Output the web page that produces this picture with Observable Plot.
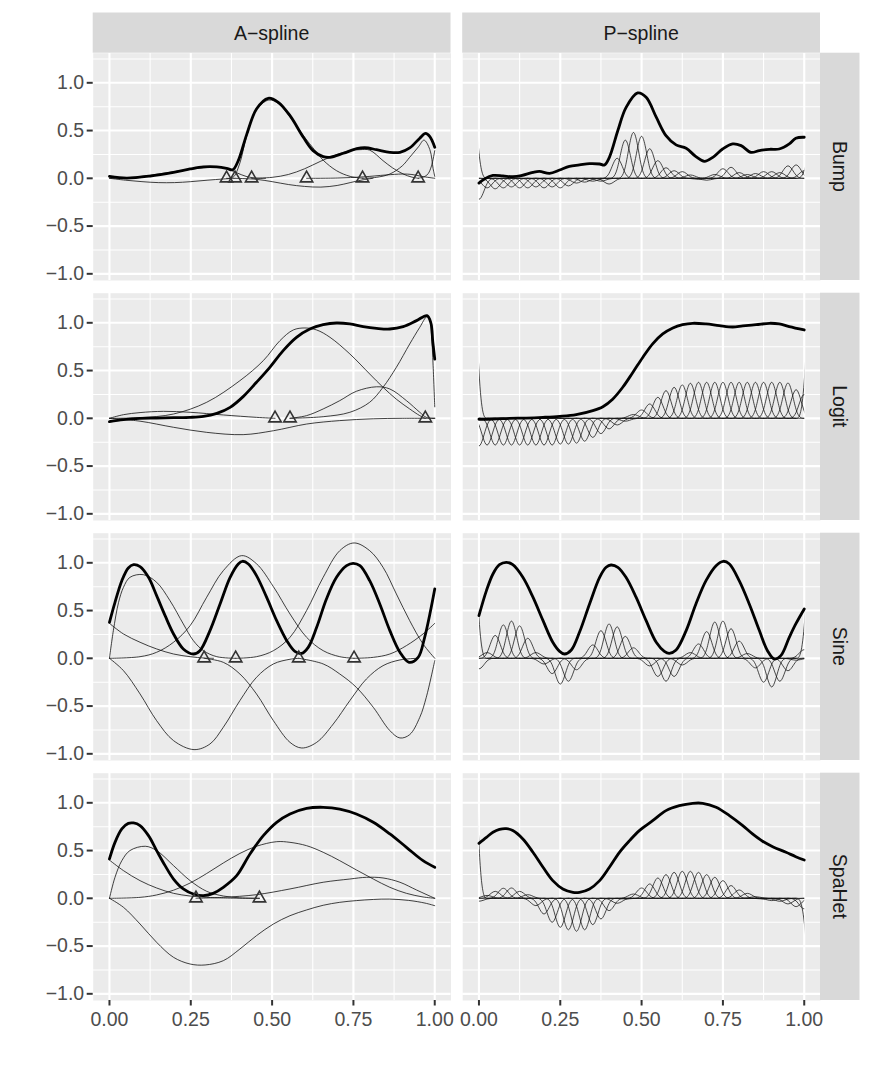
<!DOCTYPE html>
<html><head><meta charset="utf-8">
<script src="https://cdn.jsdelivr.net/npm/d3@7"></script>
<script src="https://cdn.jsdelivr.net/npm/@observablehq/plot@0.6"></script>
<style>
html,body{margin:0;padding:0;background:#fff;}
#chart{width:872px;height:1073px;}
</style></head><body><div id="chart"></div>
<script>
// ---------- facets ----------
const cols = ["A\u2212spline", "P\u2212spline"];
const rows = ["Bump", "Logit", "Sine", "SpaHet"];

// ---------- tick values ----------
const xMajor = [0, 0.25, 0.5, 0.75, 1];
const xMinor = [0.125, 0.375, 0.625, 0.875];
const yMajor = [-1, -0.5, 0, 0.5, 1];
const yMinor = [-0.75, -0.25, 0.25, 0.75, 1.25];

// ---------- fitted curves (thick) [x, y] ----------
const bumpAFit = [[0,0.02],[0.053,0.003],[0.125,0.024],[0.197,0.063],[0.248,0.098],[0.289,0.119],[0.33,0.119],[0.36,0.105],[0.379,0.09],[0.396,0.185],[0.422,0.46],[0.452,0.726],[0.488,0.838],[0.519,0.796],[0.555,0.656],[0.596,0.43],[0.626,0.29],[0.657,0.227],[0.678,0.22],[0.719,0.262],[0.76,0.31],[0.785,0.32],[0.821,0.3],[0.862,0.272],[0.893,0.272],[0.923,0.318],[0.954,0.42],[0.972,0.47],[0.985,0.436],[1,0.325]];
const bumpPFit = [[0,-0.05],[0.017,-0.007],[0.043,0.03],[0.074,0.025],[0.104,0.017],[0.13,0.028],[0.166,0.063],[0.186,0.073],[0.217,0.052],[0.248,0.087],[0.278,0.126],[0.309,0.14],[0.34,0.154],[0.371,0.15],[0.386,0.14],[0.401,0.22],[0.427,0.5],[0.452,0.74],[0.488,0.894],[0.514,0.848],[0.545,0.64],[0.575,0.447],[0.606,0.35],[0.637,0.314],[0.667,0.227],[0.693,0.178],[0.719,0.22],[0.749,0.307],[0.78,0.36],[0.806,0.342],[0.836,0.272],[0.862,0.29],[0.893,0.304],[0.923,0.307],[0.954,0.36],[0.974,0.42],[1,0.43]];
const logitAFit = [[0,-0.035],[0.043,-0.014],[0.094,0],[0.145,0.003],[0.197,0.007],[0.248,0.01],[0.289,0.02],[0.33,0.052],[0.371,0.115],[0.411,0.227],[0.452,0.377],[0.493,0.534],[0.534,0.709],[0.575,0.848],[0.616,0.935],[0.657,0.98],[0.698,0.998],[0.739,0.988],[0.78,0.96],[0.821,0.942],[0.862,0.935],[0.903,0.96],[0.944,1.023],[0.976,1.075],[0.988,1.0],[0.994,0.8],[1,0.62]];
const logitPFit = [[0,-0.01],[0.043,-0.007],[0.094,0],[0.145,0.003],[0.197,0.01],[0.248,0.02],[0.299,0.038],[0.35,0.08],[0.381,0.122],[0.411,0.2],[0.442,0.325],[0.473,0.48],[0.504,0.64],[0.534,0.78],[0.565,0.883],[0.596,0.946],[0.626,0.98],[0.657,0.995],[0.698,0.988],[0.739,0.97],[0.78,0.956],[0.811,0.967],[0.852,0.98],[0.893,0.995],[0.923,0.988],[0.954,0.96],[1,0.925]];
const sineAFit = [[0,0.377],[0.017,0.586],[0.038,0.813],[0.058,0.946],[0.074,0.98],[0.094,0.96],[0.12,0.848],[0.145,0.656],[0.171,0.447],[0.197,0.255],[0.227,0.098],[0.258,0.045],[0.278,0.08],[0.309,0.29],[0.34,0.569],[0.371,0.848],[0.396,0.988],[0.409,1.016],[0.427,0.988],[0.452,0.866],[0.483,0.64],[0.514,0.394],[0.545,0.185],[0.57,0.073],[0.591,0.052],[0.611,0.115],[0.637,0.325],[0.667,0.621],[0.698,0.848],[0.729,0.97],[0.749,0.995],[0.77,0.97],[0.8,0.813],[0.831,0.569],[0.862,0.29],[0.893,0.063],[0.921,-0.042],[0.949,0.01],[0.969,0.22],[0.985,0.464],[1,0.726]];
const sinePFit = [[0,0.447],[0.023,0.709],[0.043,0.883],[0.063,0.98],[0.084,1.005],[0.104,0.98],[0.135,0.848],[0.166,0.64],[0.197,0.394],[0.227,0.168],[0.248,0.073],[0.263,0.045],[0.284,0.087],[0.309,0.272],[0.34,0.569],[0.371,0.848],[0.391,0.953],[0.406,0.977],[0.427,0.953],[0.452,0.848],[0.483,0.64],[0.514,0.394],[0.545,0.168],[0.57,0.073],[0.585,0.052],[0.606,0.087],[0.637,0.29],[0.667,0.569],[0.698,0.813],[0.729,0.97],[0.751,1.016],[0.77,0.988],[0.8,0.813],[0.831,0.569],[0.862,0.29],[0.887,0.08],[0.908,-0.007],[0.928,0.028],[0.954,0.22],[0.974,0.36],[1,0.517]];
const spahetAFit = [[0,0.412],[0.017,0.586],[0.038,0.726],[0.058,0.785],[0.074,0.789],[0.094,0.761],[0.12,0.656],[0.145,0.5],[0.171,0.342],[0.197,0.202],[0.227,0.098],[0.258,0.045],[0.289,0.028],[0.319,0.052],[0.35,0.115],[0.391,0.237],[0.432,0.464],[0.473,0.656],[0.514,0.796],[0.555,0.883],[0.606,0.942],[0.657,0.953],[0.708,0.935],[0.759,0.883],[0.811,0.796],[0.862,0.674],[0.913,0.534],[0.964,0.394],[1,0.325]];
const spahetPFit = [[0,0.576],[0.023,0.639],[0.043,0.691],[0.063,0.722],[0.084,0.73],[0.104,0.709],[0.135,0.621],[0.166,0.482],[0.197,0.325],[0.227,0.185],[0.258,0.098],[0.289,0.063],[0.309,0.063],[0.34,0.098],[0.371,0.185],[0.401,0.325],[0.432,0.482],[0.463,0.604],[0.493,0.709],[0.534,0.813],[0.575,0.918],[0.616,0.97],[0.657,0.995],[0.688,0.995],[0.729,0.953],[0.77,0.866],[0.811,0.761],[0.841,0.674],[0.872,0.597],[0.903,0.541],[0.944,0.482],[0.974,0.436],[1,0.401]];

// ---------- A-spline knots (triangles, on the zero line) ----------
const bumpKnots = [0.36, 0.386, 0.437, 0.606, 0.778, 0.949];
const logitKnots = [0.509, 0.555, 0.971];
const sineKnots = [0.291, 0.388, 0.582, 0.752];
const spahetKnots = [0.266, 0.461];
const knotLevel = 0;

// ---------- A-spline scaled basis functions (thin) ----------
const bumpABasis = [
  [[0,0],[0.05,-0.02],[0.1,-0.035],[0.15,-0.045],[0.2,-0.045],[0.25,-0.035],[0.3,-0.02],[0.35,-0.007],[0.386,0]],
  [[0,0],[0.05,0.005],[0.1,0.02],[0.15,0.045],[0.2,0.07],[0.25,0.095],[0.3,0.113],[0.33,0.117],[0.36,0.105],[0.39,0.06],[0.42,0.02],[0.45,0.002],[0.48,0]],
  [[0.36,0],[0.38,0.01],[0.4,0.15],[0.42,0.42],[0.45,0.71],[0.49,0.82],[0.52,0.78],[0.56,0.62],[0.6,0.43],[0.63,0.3],[0.657,0.19],[0.698,0.08],[0.74,0.02],[0.78,0]],
  [[0.437,0],[0.5,0.01],[0.55,0.04],[0.6,0.1],[0.65,0.18],[0.7,0.25],[0.74,0.29],[0.77,0.3],[0.8,0.295],[0.841,0.185],[0.87,0.11],[0.903,0.045],[0.93,0.012],[0.95,0]],
  [[0.386,0],[0.45,-0.01],[0.5,-0.035],[0.55,-0.065],[0.6,-0.085],[0.65,-0.092],[0.7,-0.075],[0.74,-0.045],[0.78,-0.015],[0.81,0]],
  [[0.606,0],[0.7,0.003],[0.78,0.015],[0.85,0.035],[0.9,0.045],[0.93,0.04],[0.96,0.02],[1,0]],
  [[0.778,0],[0.82,0.01],[0.862,0.045],[0.9,0.13],[0.923,0.22],[0.95,0.33],[0.967,0.4],[0.985,0.3],[0.995,0.1],[1,0.02]],
  [[0.949,0],[0.97,0.02],[0.98,0.05],[0.99,0.13],[1,0.29]]
];
const logitABasis = [
  [[0,0],[0.094,-0.03],[0.197,-0.094],[0.299,-0.147],[0.411,-0.171],[0.504,-0.13],[0.606,-0.06],[0.708,-0.024],[0.811,-0.005],[0.9,0],[1,0]],
  [[0,0],[0.043,0.038],[0.094,0.06],[0.166,0.073],[0.248,0.063],[0.35,0.035],[0.452,0.01],[0.509,0]],
  [[0,0],[0.094,0.007],[0.197,0.045],[0.299,0.168],[0.401,0.394],[0.473,0.604],[0.524,0.813],[0.565,0.925],[0.601,0.946],[0.637,0.925],[0.678,0.848],[0.739,0.674],[0.8,0.464],[0.841,0.325],[0.882,0.2],[0.923,0.098],[0.954,0.028],[0.971,0]],
  [[0.555,0],[0.606,0.028],[0.657,0.098],[0.708,0.185],[0.759,0.283],[0.821,0.33],[0.862,0.307],[0.913,0.185],[0.954,0.063],[0.974,0.01],[1,0]],
  [[0.555,0],[0.657,0.017],[0.739,0.063],[0.8,0.168],[0.841,0.325],[0.882,0.534],[0.923,0.778],[0.954,0.953],[0.976,1.065],[0.984,1.05],[0.99,0.88],[0.995,0.55],[1,0.12]]
];
const sineABasis = [
  [[0,0.366],[0.043,0.255],[0.094,0.168],[0.145,0.098],[0.197,0.045],[0.248,0.017],[0.291,0.003],[0.32,0]],
  [[0,0],[0.012,0.29],[0.028,0.586],[0.043,0.743],[0.063,0.848],[0.104,0.876],[0.145,0.796],[0.186,0.604],[0.227,0.36],[0.258,0.185],[0.289,0.08],[0.33,0.017],[0.388,0]],
  [[0,0],[0.043,-0.129],[0.094,-0.373],[0.145,-0.653],[0.197,-0.862],[0.26,-0.956],[0.309,-0.897],[0.35,-0.722],[0.401,-0.443],[0.452,-0.199],[0.504,-0.059],[0.555,-0.01],[0.582,0]],
  [[0,0],[0.094,0.017],[0.145,0.063],[0.197,0.168],[0.248,0.342],[0.299,0.64],[0.35,0.918],[0.406,1.075],[0.452,0.99],[0.504,0.75],[0.555,0.464],[0.606,0.22],[0.657,0.08],[0.708,0.017],[0.752,0]],
  [[0.291,0],[0.35,-0.042],[0.401,-0.164],[0.452,-0.373],[0.504,-0.653],[0.555,-0.88],[0.591,-0.939],[0.637,-0.88],[0.688,-0.688],[0.739,-0.443],[0.79,-0.216],[0.841,-0.077],[0.893,-0.017],[0.944,0]],
  [[0.388,0],[0.452,0.017],[0.504,0.08],[0.555,0.22],[0.606,0.5],[0.657,0.848],[0.708,1.127],[0.752,1.208],[0.8,1.127],[0.841,0.953],[0.882,0.674],[0.923,0.394],[0.964,0.15],[1,0]],
  [[0.582,0],[0.657,-0.059],[0.708,-0.164],[0.759,-0.304],[0.811,-0.513],[0.862,-0.757],[0.893,-0.834],[0.923,-0.799],[0.954,-0.618],[0.974,-0.408],[1,-0.024]],
  [[0.752,0],[0.811,0.01],[0.862,0.045],[0.913,0.133],[0.964,0.255],[1,0.366]]
];
const spahetABasis = [
  [[0,0.4],[0.043,0.29],[0.094,0.185],[0.145,0.108],[0.197,0.052],[0.248,0.024],[0.299,0.01],[0.35,0.003],[0.461,0]],
  [[0,0],[0.017,0.22],[0.038,0.394],[0.063,0.5],[0.11,0.545],[0.145,0.5],[0.197,0.342],[0.248,0.185],[0.299,0.073],[0.35,0.024],[0.401,0.005],[0.461,0]],
  [[0,0],[0.043,-0.094],[0.094,-0.269],[0.145,-0.461],[0.197,-0.618],[0.248,-0.688],[0.294,-0.698],[0.35,-0.653],[0.401,-0.531],[0.452,-0.391],[0.504,-0.269],[0.555,-0.182],[0.606,-0.122],[0.657,-0.073],[0.708,-0.042],[0.759,-0.024],[0.811,-0.012],[0.86,-0.008],[0.92,-0.022],[0.97,-0.05],[1,-0.077]],
  [[0,0],[0.094,0.01],[0.145,0.035],[0.197,0.085],[0.248,0.16],[0.299,0.26],[0.35,0.37],[0.401,0.47],[0.452,0.545],[0.514,0.593],[0.555,0.586],[0.606,0.551],[0.657,0.482],[0.708,0.394],[0.759,0.297],[0.811,0.202],[0.862,0.115],[0.913,0.052],[0.964,0.014],[1,0]],
  [[0.266,0],[0.35,0.01],[0.452,0.038],[0.555,0.098],[0.657,0.168],[0.739,0.202],[0.79,0.22],[0.841,0.213],[0.893,0.168],[0.944,0.087],[1,0]]
];

// ---------- P-spline: peak height of each scaled cubic B-spline (centres k*step, k = -1..41) ----------
const pStep = 0.025;
const bumpPPeaks = [1.09,-0.22,-0.1,-0.11,-0.1,-0.09,-0.1,-0.1,-0.09,-0.1,-0.09,-0.1,-0.08,-0.05,-0.04,-0.03,-0.03,-0.06,0.21,0.40,0.48,0.44,0.31,0.185,0.11,0.08,0.07,0.035,-0.01,-0.02,0.04,0.1,0.115,0.06,0.04,0.05,0.07,0.07,0.06,0.13,0.14,0.08,0.32];
const logitPPeaks = [2.0,-0.29,-0.28,-0.28,-0.28,-0.28,-0.28,-0.28,-0.28,-0.28,-0.28,-0.27,-0.27,-0.26,-0.24,-0.2,-0.16,-0.11,-0.07,-0.03,0.04,0.087,0.15,0.22,0.29,0.325,0.35,0.367,0.377,0.377,0.377,0.377,0.377,0.377,0.377,0.377,0.377,0.377,0.377,0.37,0.3,0.25,1.56];
const sinePPeaks = [1.72,-0.11,0.06,0.24,0.35,0.39,0.34,0.21,0.06,-0.06,-0.16,-0.27,-0.24,-0.12,0.0,0.14,0.29,0.36,0.33,0.23,0.11,0.0,-0.08,-0.19,-0.24,-0.19,-0.07,0.06,0.15,0.28,0.38,0.39,0.31,0.18,0.05,-0.1,-0.25,-0.3,-0.24,-0.13,-0.02,0.09,1.37];
const spahetPPeaks = [2.28,-0.03,0.03,0.073,0.105,0.108,0.073,0.038,-0.077,-0.164,-0.251,-0.304,-0.33,-0.345,-0.33,-0.276,-0.216,-0.129,-0.052,-0.007,0.045,0.108,0.15,0.213,0.248,0.272,0.283,0.283,0.272,0.248,0.22,0.185,0.133,0.087,0.052,0.017,-0.007,-0.024,-0.031,-0.059,-0.087,-0.11,-1.0];

// ---------- build tables ----------
const fitRows = [], basisRows = [], knotRows = [], pRows = [];
function addFit(col, row, pts) { pts.forEach(([x, y]) => fitRows.push({col, row, id: col + row, x, y})); }
function addBasis(row, curves) { curves.forEach((c, i) => c.forEach(([x, y]) => basisRows.push({col: cols[0], row, id: row + i, x, y}))); }
function addKnots(row, ks) { ks.forEach(x => knotRows.push({col: cols[0], row, x, y: knotLevel})); }
function addP(row, peaks) {
  peaks.forEach((v, i) => {
    const k = i - 1;
    for (let j = -3; j <= 3; j++) pRows.push({col: cols[1], row, id: row + "_" + k, x: (k + j) * pStep, y: j === 0 ? v * 1.5 : 0});
  });
}
addFit(cols[0], "Bump", bumpAFit); addFit(cols[1], "Bump", bumpPFit);
addFit(cols[0], "Logit", logitAFit); addFit(cols[1], "Logit", logitPFit);
addFit(cols[0], "Sine", sineAFit); addFit(cols[1], "Sine", sinePFit);
addFit(cols[0], "SpaHet", spahetAFit); addFit(cols[1], "SpaHet", spahetPFit);
addBasis("Bump", bumpABasis); addBasis("Logit", logitABasis); addBasis("Sine", sineABasis); addBasis("SpaHet", spahetABasis);
addKnots("Bump", bumpKnots); addKnots("Logit", logitKnots); addKnots("Sine", sineKnots); addKnots("SpaHet", spahetKnots);
addP("Bump", bumpPPeaks); addP("Logit", logitPPeaks); addP("Sine", sinePPeaks); addP("SpaHet", spahetPPeaks);

const FONT = "'Liberation Sans', Arial, Helvetica, sans-serif";
const FS = 19.5;
const PCOLOR = "#121212";

const plot = Plot.plot({
  width: 872, height: 1073,
  marginTop: 52.7, marginRight: 52, marginBottom: 73, marginLeft: 92.7,
  style: {fontFamily: FONT, fontSize: FS + "px", background: "#fff", overflow: "visible"},
  fx: {domain: cols, paddingInner: 0.0316, paddingOuter: 0, round: false, axis: null, label: null},
  fy: {domain: rows, paddingInner: 0.0529, paddingOuter: 0, round: false, axis: null, label: null},
  x: {domain: [-0.05, 1.05]},
  y: {domain: [-1.07, 1.31]},
  marks: [
    Plot.frame({fill: "#EBEBEB"}),
    Plot.gridX(xMinor, {stroke: "#fff", strokeOpacity: 1, strokeWidth: 1.07}),
    Plot.gridY(yMinor, {stroke: "#fff", strokeOpacity: 1, strokeWidth: 1.07}),
    Plot.gridX(xMajor, {stroke: "#fff", strokeOpacity: 1, strokeWidth: 2.13}),
    Plot.gridY(yMajor, {stroke: "#fff", strokeOpacity: 1, strokeWidth: 2.13}),
    Plot.line(pRows, {x: "x", y: "y", z: "id", fx: "col", fy: "row", curve: "basis", stroke: PCOLOR, strokeWidth: 0.75}),
    Plot.line(basisRows, {x: "x", y: "y", z: "id", fx: "col", fy: "row", curve: "catmull-rom", stroke: "#111", strokeWidth: 0.8}),
    Plot.line(fitRows, {x: "x", y: "y", z: "id", fx: "col", fy: "row", curve: "catmull-rom", stroke: "#000", strokeWidth: 2.8}),
    Plot.dot(knotRows, {x: "x", y: "y", fx: "col", fy: "row", symbol: "triangle", r: 4.6, stroke: "#333", strokeWidth: 1.6, fill: "none"}),
    Plot.axisX({ticks: xMajor, tickFormat: d3.format(".2f"), tickSize: 5.5, tickPadding: 6, stroke: "#333", strokeWidth: 2, fill: "#4D4D4D", fontSize: FS, label: null}),
    Plot.axisY({ticks: yMajor, tickFormat: d3.format(".1f"), tickSize: 6, tickPadding: 3, stroke: "#333", strokeWidth: 2, fill: "#4D4D4D", fontSize: FS, label: null})
  ]
});

document.getElementById("chart").append(plot);

// ---------- post: clip P-spline bases to x in [0,1], draw facet strips ----------
const svg = d3.select(plot);
const xS = plot.scale("x");
const xf = xS.apply ? xS.apply : d3.scaleLinear(xS.domain, xS.range);
const defs = svg.insert("defs", ":first-child");
defs.append("clipPath").attr("id", "unitclip").attr("clipPathUnits", "userSpaceOnUse")
  .append("rect").attr("x", xf(0)).attr("y", -5000).attr("width", xf(1) - xf(0)).attr("height", 10000);
svg.selectAll(`g[stroke="${PCOLOR}"] path`).attr("clip-path", "url(#unitclip)");

const fxS = plot.scale("fx"), fyS = plot.scale("fy");
const fxf = fxS.apply ? fxS.apply : d3.scaleBand(fxS.domain, fxS.range).paddingInner(0.0316).paddingOuter(0);
const fyf = fyS.apply ? fyS.apply : d3.scaleBand(fyS.domain, fyS.range).paddingInner(0.0529).paddingOuter(0);
const bwX = fxS.bandwidth, bwY = fyS.bandwidth;
const topY = fyS.range[0], rightX = fxS.range[1];
const stripH = 40.2, stripW = 39.5;
const sg = svg.append("g").attr("font-family", FONT).attr("font-size", FS).attr("fill", "#1A1A1A").attr("text-anchor", "middle");
cols.forEach(c => {
  const x0 = fxf(c);
  sg.append("rect").attr("x", x0).attr("y", topY - stripH).attr("width", bwX).attr("height", stripH).attr("fill", "#D9D9D9");
  sg.append("text").attr("x", x0 + bwX / 2).attr("y", topY - stripH / 2).attr("dy", "0.36em").attr("fill", "#1A1A1A").text(c);
});
rows.forEach(r => {
  const y0 = fyf(r);
  sg.append("rect").attr("x", rightX).attr("y", y0).attr("width", stripW).attr("height", bwY).attr("fill", "#D9D9D9");
  sg.append("text").attr("transform", `translate(${rightX + stripW / 2},${y0 + bwY / 2}) rotate(90)`).attr("dy", "0.36em").attr("fill", "#1A1A1A").text(r);
});
</script>
</body></html>
